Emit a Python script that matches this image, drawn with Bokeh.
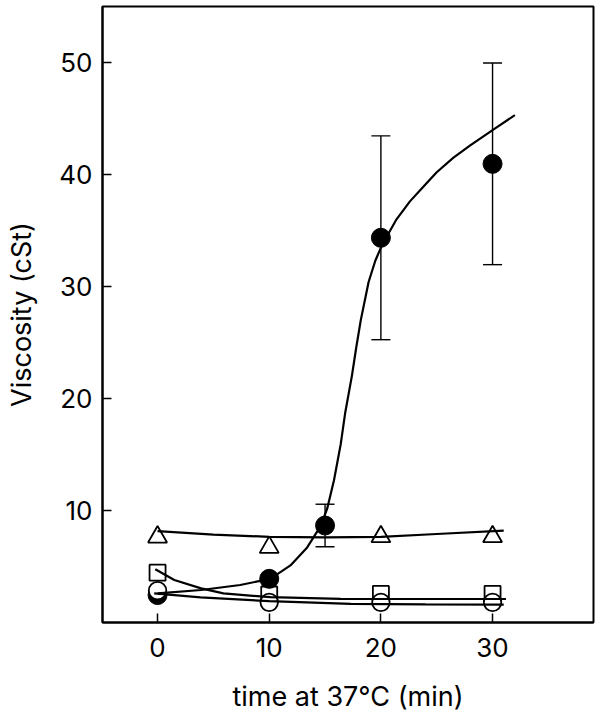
from bokeh.plotting import figure
from bokeh.models import Range1d, FixedTicker, Whisker, TeeHead, ColumnDataSource
from bokeh.embed import file_html
from bokeh.resources import INLINE

# ---- data ----
times = [0, 10, 20, 30]

filled_t = [0, 10, 15, 20, 30]
filled_v = [2.45, 3.9, 8.66, 34.35, 40.95]
filled_err = [0.0, 0.0, 1.9, 9.1, 9.0]

open_circle_v = [2.85, 1.8, 1.8, 1.8]
square_v = [4.45, 2.5, 2.55, 2.55]
triangle_v = [7.63, 6.71, 7.66, 7.66]

# fitted curves
fit_filled_t = [0, 3.9, 7.4, 10.1, 11.9, 13.4, 14.6, 15.2, 15.8, 16.4, 16.8,
                17.4, 17.8, 18.2, 18.9, 19.5, 20.1, 21.4, 22.6, 23.8, 25.0,
                26.5, 28.0, 30.2, 32.0]
fit_filled_v = [2.6, 2.9, 3.35, 3.9, 5.1, 6.7, 8.6, 10.2, 12.7, 15.9, 18.7,
                22.0, 24.6, 27.0, 30.4, 32.3, 33.7, 36.0, 37.6, 38.9, 40.2,
                41.5, 42.6, 44.1, 45.3]

fit_tri_t = [0, 5, 10, 15, 20, 25, 31]
fit_tri_v = [8.15, 7.85, 7.65, 7.6, 7.65, 7.9, 8.2]

fit_sq_t = [-0.2, 1.5, 3.9, 5.9, 10.1, 16.4, 24, 31.2]
fit_sq_v = [4.75, 3.8, 3.05, 2.6, 2.26, 2.11, 2.1, 2.1]

fit_oc_t = [-0.3, 3.85, 10.0, 17.3, 24, 31]
fit_oc_v = [2.6, 2.25, 1.9, 1.67, 1.62, 1.6]

x_ticks = [0, 10, 20, 30]
y_ticks = [10, 20, 30, 40, 50]

FONT = "Inter"

p = figure(width=600, height=716, output_backend="svg", toolbar_location=None,
           x_range=Range1d(-4.93, 39.04), y_range=Range1d(0, 55.0),
           min_border_left=102, min_border_right=7, min_border_top=6,
           min_border_bottom=94)
p.grid.visible = False
p.background_fill_color = "white"
p.border_fill_color = "white"
p.outline_line_color = "black"
p.outline_line_width = 2

for ax in (p.xaxis[0], p.yaxis[0]):
    ax.axis_line_width = 2
    ax.major_tick_line_width = 1.5
    ax.major_tick_in = 9
    ax.major_tick_out = 0
    ax.minor_tick_line_color = None
    ax.major_label_text_font = FONT
    ax.major_label_text_font_size = "26px"
    ax.major_label_text_color = "black"
    ax.axis_label_text_font = FONT
    ax.axis_label_text_font_size = "27px"
    ax.axis_label_text_font_style = "normal"
    ax.axis_label_text_color = "black"

p.xaxis.ticker = FixedTicker(ticks=x_ticks)
p.yaxis.ticker = FixedTicker(ticks=y_ticks)
p.xaxis.axis_label = "time at 37°C (min)"
p.yaxis.axis_label = "Viscosity (cSt)"
p.xaxis.major_label_standoff = 15
p.yaxis.major_label_standoff = 10
p.xaxis.axis_label_standoff = 20
p.yaxis.axis_label_standoff = 18

# markers
p.scatter(times, square_v, marker="square", size=16, fill_color="white",
          line_color="black", line_width=1.8)
p.scatter(filled_t, filled_v, marker="circle", size=19, fill_color="black",
          line_color="black")
p.scatter(times, open_circle_v, marker="circle", size=17.5, fill_color="white",
          line_color="black", line_width=1.8)
p.scatter(times, triangle_v, marker="triangle", size=19, fill_color="white",
          line_color="black", line_width=1.8)

# error bars
eb_t = [t for t, e in zip(filled_t, filled_err) if e > 0]
eb_lo = [v - e for v, e in zip(filled_v, filled_err) if e > 0]
eb_hi = [v + e for v, e in zip(filled_v, filled_err) if e > 0]
src = ColumnDataSource(dict(x=eb_t, lo=eb_lo, hi=eb_hi))
w = Whisker(source=src, base="x", lower="lo", upper="hi", line_width=1.4,
            line_color="black",
            upper_head=TeeHead(size=19, line_width=1.4, line_color="black"),
            lower_head=TeeHead(size=19, line_width=1.4, line_color="black"))
p.add_layout(w)

# fitted lines
p.line(fit_filled_t, fit_filled_v, line_color="black", line_width=2.2)
p.line(fit_tri_t, fit_tri_v, line_color="black", line_width=2.2)
p.line(fit_sq_t, fit_sq_v, line_color="black", line_width=2.2)
p.line(fit_oc_t, fit_oc_v, line_color="black", line_width=2.2)

open("out.html", "w").write(file_html(p, INLINE))
